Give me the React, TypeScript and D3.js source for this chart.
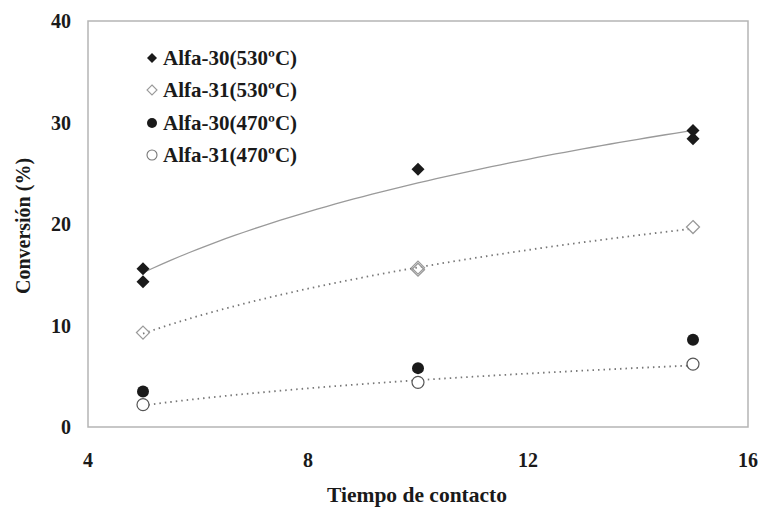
import React from 'react';
import * as d3 from 'd3';

// Tiempo de contacto vs Conversión (%)
const tiempos = [5, 5, 10, 15, 15];
const alfa30_530 = [15.6, 14.3, 25.4, 29.2, 28.4];
const tiempos31_530 = [5, 10, 10, 15];
const alfa31_530 = [9.3, 15.7, 15.5, 19.7];
const tiempos470 = [5, 10, 15];
const alfa30_470 = [3.5, 5.8, 8.6];
const alfa31_470 = [2.2, 4.4, 6.2];

const legendLabels = ['Alfa-30(530ºC)', 'Alfa-31(530ºC)', 'Alfa-30(470ºC)', 'Alfa-31(470ºC)'];
const xTicks = [4, 8, 12, 16];
const yTicks = [0, 10, 20, 30, 40];

const width = 758;
const height = 508;
const margin = { top: 21, right: 10, bottom: 81, left: 88 };

// least squares fit y = a + b ln(x), as the spreadsheet trendline
const logFit = (xs: number[], ys: number[]) => {
  const lx = xs.map(Math.log);
  const mx = d3.mean(lx) as number;
  const my = d3.mean(ys) as number;
  const b =
    d3.sum(lx, (v, i) => (v - mx) * (ys[i] - my)) / d3.sum(lx, (v) => (v - mx) ** 2);
  const a = my - b * mx;
  return (x: number) => a + b * Math.log(x);
};

const font = '"Liberation Serif", "Times New Roman", serif';

export default function App() {
  const x = d3.scaleLinear().domain([4, 16]).range([margin.left, width - margin.right]);
  const y = d3.scaleLinear().domain([0, 40]).range([height - margin.bottom, margin.top]);

  const curve = (xs: number[], ys: number[]) => {
    const f = logFit(xs, ys);
    const lo = d3.min(xs) as number;
    const hi = d3.max(xs) as number;
    const pts = d3.range(0, 61).map((i) => lo + ((hi - lo) * i) / 60);
    return d3
      .line<number>()
      .x((t) => x(t))
      .y((t) => y(f(t)))(pts) as string;
  };

  const diamond = (cx: number, cy: number, r: number) =>
    `M${cx},${cy - r}L${cx + r},${cy}L${cx},${cy + r}L${cx - r},${cy}Z`;

  const legendY = [58, 90, 123, 155];

  return (
    <svg
      width={width}
      height={height}
      style={{ position: 'absolute', left: 0, top: 0, background: '#fff' }}
    >
      <rect
        x={margin.left}
        y={margin.top}
        width={width - margin.left - margin.right}
        height={height - margin.top - margin.bottom}
        fill="none"
        stroke="#b5b5b5"
        strokeWidth={1.5}
      />

      {/* trend lines */}
      <path d={curve(tiempos, alfa30_530)} fill="none" stroke="#9a9a9a" strokeWidth={1.3} />
      <path
        d={curve(tiempos31_530, alfa31_530)}
        fill="none"
        stroke="#777"
        strokeWidth={1.8}
        strokeDasharray="1.5,4"
      />
      <path
        d={curve(tiempos470, alfa31_470)}
        fill="none"
        stroke="#777"
        strokeWidth={1.8}
        strokeDasharray="1.5,4"
      />

      {/* points */}
      {tiempos.map((t, i) => (
        <path key={'a' + i} d={diamond(x(t), y(alfa30_530[i]), 6.5)} fill="#1a1a1a" />
      ))}
      {tiempos31_530.map((t, i) => (
        <path
          key={'b' + i}
          d={diamond(x(t), y(alfa31_530[i]), 6.5)}
          fill="none"
          stroke="#9a9a9a"
          strokeWidth={1.3}
        />
      ))}
      {tiempos470.map((t, i) => (
        <circle key={'c' + i} cx={x(t)} cy={y(alfa30_470[i])} r={6} fill="#1a1a1a" />
      ))}
      {tiempos470.map((t, i) => (
        <circle
          key={'d' + i}
          cx={x(t)}
          cy={y(alfa31_470[i])}
          r={6}
          fill="#fff"
          stroke="#555"
          strokeWidth={1.2}
        />
      ))}

      {/* axis labels */}
      {yTicks.map((v) => (
        <text
          key={'y' + v}
          x={margin.left - 17}
          y={y(v)}
          dy="0.35em"
          textAnchor="end"
          fontFamily={font}
          fontWeight="bold"
          fontSize={20}
          fill="#1a1a1a"
        >
          {v}
        </text>
      ))}
      {xTicks.map((v) => (
        <text
          key={'x' + v}
          x={x(v)}
          y={467}
          textAnchor="middle"
          fontFamily={font}
          fontWeight="bold"
          fontSize={20}
          fill="#1a1a1a"
        >
          {v}
        </text>
      ))}
      <text
        transform={`translate(30,226) rotate(-90)`}
        textAnchor="middle"
        fontFamily={font}
        fontWeight="bold"
        fontSize={20}
        fill="#1a1a1a"
      >
        Conversión (%)
      </text>
      <text
        x={417}
        y={502}
        textAnchor="middle"
        fontFamily={font}
        fontWeight="bold"
        fontSize={21.5}
        fill="#1a1a1a"
      >
        Tiempo de contacto
      </text>

      {/* legend */}
      {legendLabels.map((lab, i) => {
        const cy = legendY[i];
        const cx = 152;
        let marker;
        if (i === 0) marker = <path d={diamond(cx, cy, 5)} fill="#1a1a1a" />;
        else if (i === 1)
          marker = <path d={diamond(cx, cy, 5)} fill="none" stroke="#9a9a9a" strokeWidth={1.1} />;
        else if (i === 2) marker = <circle cx={cx} cy={cy} r={5} fill="#1a1a1a" />;
        else marker = <circle cx={cx} cy={cy} r={5} fill="#fff" stroke="#777" strokeWidth={1.1} />;
        return (
          <g key={lab}>
            {marker}
            <text
              x={163}
              y={cy}
              dy="0.35em"
              fontFamily={font}
              fontWeight="bold"
              fontSize={21}
              fill="#1a1a1a"
            >
              {lab}
            </text>
          </g>
        );
      })}
    </svg>
  );
}
